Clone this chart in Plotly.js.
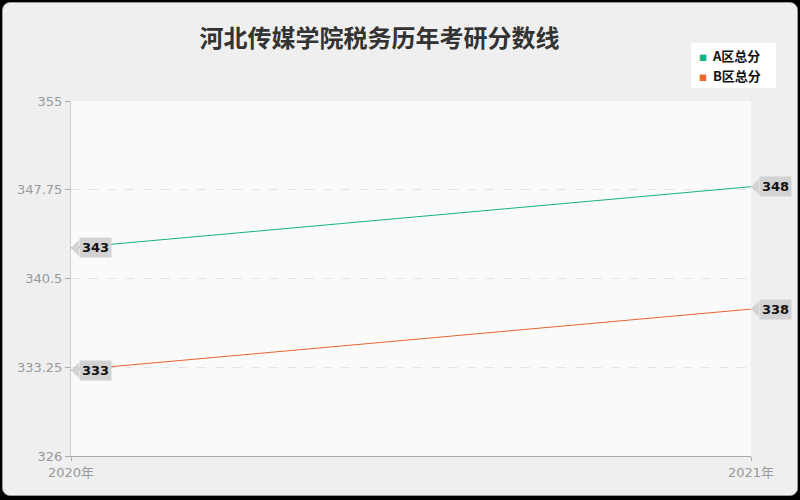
<!DOCTYPE html>
<html>
<head>
<meta charset="utf-8">
<script src="https://cdn.plot.ly/plotly-3.0.1.min.js"></script>
<style>
  body { margin: 0; background: #000; }
  #frame {
    position: absolute; left: 2px; top: 2px; width: 796px; height: 494px;
    box-sizing: border-box; border: 1px solid #9a9a9a; border-radius: 8px;
    background: #efefef; overflow: hidden;
  }
  #chart { position: absolute; left: 1px; top: 1px; width: 794px; height: 492px; }
</style>
</head>
<body>
<div id="frame"><div id="chart"></div></div>
<script>
// Chart data
const years = ['2020年', '2021年'];
const scoresA = [343, 348];
const scoresB = [333, 338];
const seriesNames = ['A区总分', 'B区总分'];
const colors = ['#13b383', '#e8652e'];
const yTicks = [326, 333.25, 340.5, 347.75, 355];

const baseFont = 'DejaVu Sans, Noto Sans CJK SC, sans-serif';

// One plain line per series
function makeTrace(values, name, color) {
  return {
    x: years,
    y: values,
    name,
    mode: 'lines',
    line: { color, width: 1 },
    showlegend: false,
    hoverinfo: 'skip',
  };
}

// Callout label next to each point
function makeLabels(values) {
  return values.map((v, i) => ({
    x: years[i],
    y: v,
    text: '<b>' + v + '</b>',
    showarrow: true,
    ax: 24,
    ay: 0,
    arrowhead: 1,
    arrowwidth: 2,
    arrowsize: 1.3,
    arrowcolor: '#d2d2d2',
    standoff: 0,
    bgcolor: '#d2d2d2',
    borderpad: 2,
    font: { family: baseFont, size: 13, color: '#111' },
  }));
}

// Small legend entries drawn as text, top right (one per line)
const legendRows = [1.128, 1.072];
const legendEntries = seriesNames.map((n, i) => ({
  xref: 'paper',
  yref: 'paper',
  x: 0.921,
  y: legendRows[i],
  xanchor: 'left',
  yanchor: 'middle',
  showarrow: false,
  text: `<span style="color:${colors[i]};font-size:8px">■</span>  ${n}`,
  font: { family: 'Noto Sans CJK SC, sans-serif', size: 13, color: '#111', weight: 'bold' },
}));

const data = [
  makeTrace(scoresA, seriesNames[0], colors[0]),
  makeTrace(scoresB, seriesNames[1], colors[1]),
];

const layout = {
  width: 794,
  height: 492,
  paper_bgcolor: '#efefef',
  plot_bgcolor: '#fafafa',
  margin: { l: 67, r: 47, t: 97, b: 40 },
  font: { family: baseFont, color: '#999' },
  showlegend: false,
  title: {
    text: '河北传媒学院税务历年考研分数线',
    x: 0.473,
    xanchor: 'center',
    y: 0.93,
    yanchor: 'middle',
    font: { family: 'Noto Sans CJK SC, sans-serif', size: 24, color: '#333', weight: 'bold' },
  },
  xaxis: {
    type: 'category',
    range: [0, 1],
    showgrid: false,
    zeroline: false,
    showline: true,
    linecolor: '#aaa',
    ticks: 'outside',
    ticklen: 4,
    tickcolor: '#aaa',
    tickfont: { size: 13, color: '#999' },
  },
  yaxis: {
    range: [326, 355],
    tickvals: yTicks,
    ticktext: yTicks.map(String),
    showgrid: true,
    gridcolor: '#e4e4e4',
    griddash: 'dash',
    zeroline: false,
    showline: true,
    linecolor: '#ccc',
    ticks: 'outside',
    ticklen: 5,
    tickcolor: '#aaa',
    tickfont: { size: 13, color: '#999' },
  },
  shapes: [
    {
      type: 'rect',
      xref: 'paper',
      yref: 'paper',
      x0: 0.912,
      x1: 1.037,
      y0: 1.036,
      y1: 1.164,
      fillcolor: '#fff',
      line: { width: 0 },
      layer: 'below',
    },
  ],
  annotations: [...makeLabels(scoresA), ...makeLabels(scoresB), ...legendEntries],
};

const config = { staticPlot: true };

Plotly.newPlot('chart', data, layout, config);
</script>
</body>
</html>
